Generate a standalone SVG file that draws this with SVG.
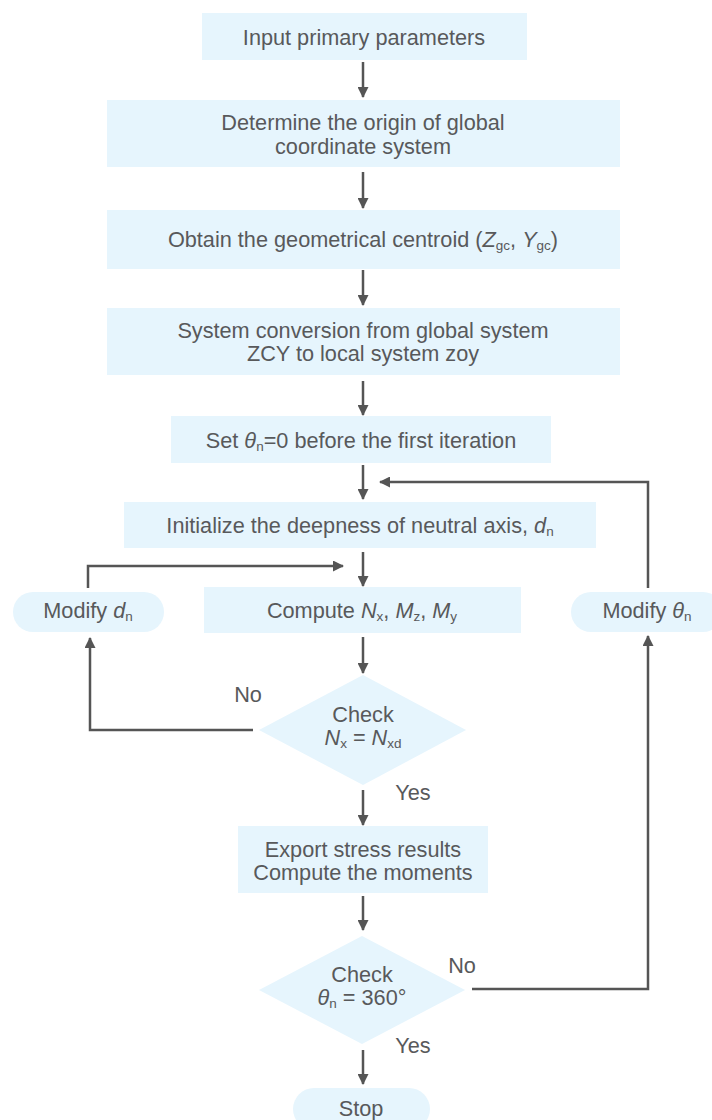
<svg xmlns="http://www.w3.org/2000/svg" width="712" height="1120" viewBox="0 0 712 1120">
<style>
.box{fill:#e6f5fd;stroke:none}
.t{font-family:"Liberation Sans",Arial,sans-serif;font-size:21.7px;fill:#58595b;text-anchor:middle}
.s{font-size:13.5px}
.i{font-style:italic}
.ln{fill:none;stroke:#555555;stroke-width:2.5}
</style>
<defs>
<marker id="ah" markerUnits="userSpaceOnUse" markerWidth="11" markerHeight="11" refX="10" refY="5.5" orient="auto">
<path d="M0,0 L11,5.5 L0,11 z" fill="#555555"/>
</marker>
</defs>
<g id="n1"><rect class="box" x="202" y="13" width="325" height="47"/><text class="t" x="364" y="45">Input primary parameters</text></g>
<g id="n2"><rect class="box" x="107" y="100" width="513" height="67"/><text class="t" x="363" y="130">Determine the origin of global</text><text class="t" x="363" y="154">coordinate system</text></g>
<g id="n3"><rect class="box" x="107" y="210" width="513" height="59"/><text class="t" x="363" y="247">Obtain the geometrical centroid (<tspan class="i">Z</tspan><tspan class="s" dy="3">gc</tspan><tspan dy="-3">, </tspan><tspan class="i">Y</tspan><tspan class="s" dy="3">gc</tspan><tspan dy="-3">)</tspan></text></g>
<g id="n4"><rect class="box" x="107" y="308" width="513" height="67"/><text class="t" x="363" y="338">System conversion from global system</text><text class="t" x="363" y="361">ZCY to local system zoy</text></g>
<g id="n5"><rect class="box" x="171" y="416" width="380" height="47"/><text class="t" x="361" y="448">Set <tspan class="i">θ</tspan><tspan class="s" dy="3">n</tspan><tspan dy="-3">=0 before the first iteration</tspan></text></g>
<g id="n6"><rect class="box" x="124" y="502" width="472" height="46"/><text class="t" x="360" y="533">Initialize the deepness of neutral axis, <tspan class="i">d</tspan><tspan class="s" dy="3">n</tspan></text></g>
<g id="n7"><rect class="box" x="204" y="587" width="317" height="46"/><text class="t" x="362" y="618">Compute <tspan class="i">N</tspan><tspan class="s" dy="3">x</tspan><tspan dy="-3">, </tspan><tspan class="i">M</tspan><tspan class="s" dy="3">z</tspan><tspan dy="-3">, </tspan><tspan class="i">M</tspan><tspan class="s" dy="3">y</tspan></text></g>
<g id="n8"><rect class="box" x="13" y="592" width="151" height="40" rx="20"/><text class="t" x="88" y="618">Modify <tspan class="i">d</tspan><tspan class="s" dy="3">n</tspan></text></g>
<g id="n9"><rect class="box" x="571" y="592" width="152" height="40" rx="20"/><text class="t" x="647" y="618">Modify <tspan class="i">θ</tspan><tspan class="s" dy="3">n</tspan></text></g>
<g id="n10"><polygon class="box" points="363,675 466,730 363,785 259,730"/><text class="t" x="363" y="722">Check</text><text class="t" x="363" y="745"><tspan class="i">N</tspan><tspan class="s" dy="3">x</tspan><tspan dy="-3"> = </tspan><tspan class="i">N</tspan><tspan class="s" dy="3">xd</tspan></text></g>
<g id="n11"><rect class="box" x="238" y="826" width="250" height="67"/><text class="t" x="363" y="857">Export stress results</text><text class="t" x="363" y="880">Compute the moments</text></g>
<g id="n12"><polygon class="box" points="362,936 465,990 362,1044 259,990"/><text class="t" x="362" y="982">Check</text><text class="t" x="362" y="1005"><tspan class="i">θ</tspan><tspan class="s" dy="3">n</tspan><tspan dy="-3"> = 360°</tspan></text></g>
<g id="n13"><rect class="box" x="293" y="1088" width="137" height="42" rx="21"/><text class="t" x="361" y="1116">Stop</text></g>
<g id="connectors">
<line class="ln" x1="363" y1="62" x2="363" y2="97" marker-end="url(#ah)"/>
<line class="ln" x1="363" y1="172" x2="363" y2="208" marker-end="url(#ah)"/>
<line class="ln" x1="363" y1="270" x2="363" y2="305" marker-end="url(#ah)"/>
<line class="ln" x1="363" y1="381" x2="363" y2="415" marker-end="url(#ah)"/>
<line class="ln" x1="363" y1="465" x2="363" y2="499" marker-end="url(#ah)"/>
<line class="ln" x1="363" y1="552" x2="363" y2="586" marker-end="url(#ah)"/>
<line class="ln" x1="363" y1="637" x2="363" y2="673" marker-end="url(#ah)"/>
<line class="ln" x1="363" y1="790" x2="363" y2="825" marker-end="url(#ah)"/>
<line class="ln" x1="363" y1="896" x2="363" y2="930" marker-end="url(#ah)"/>
<line class="ln" x1="363" y1="1050" x2="363" y2="1084" marker-end="url(#ah)"/>
<polyline class="ln" points="648,588 648,482 380,482" marker-end="url(#ah)"/>
<polyline class="ln" points="88,588 88,566 343,566" marker-end="url(#ah)"/>
<polyline class="ln" points="253,730 90,730 90,638" marker-end="url(#ah)"/>
<polyline class="ln" points="472,989 648,989 648,636" marker-end="url(#ah)"/>
<text class="t" x="248" y="702">No</text>
<text class="t" x="413" y="800">Yes</text>
<text class="t" x="462" y="973">No</text>
<text class="t" x="413" y="1053">Yes</text>
</g>
</svg>
